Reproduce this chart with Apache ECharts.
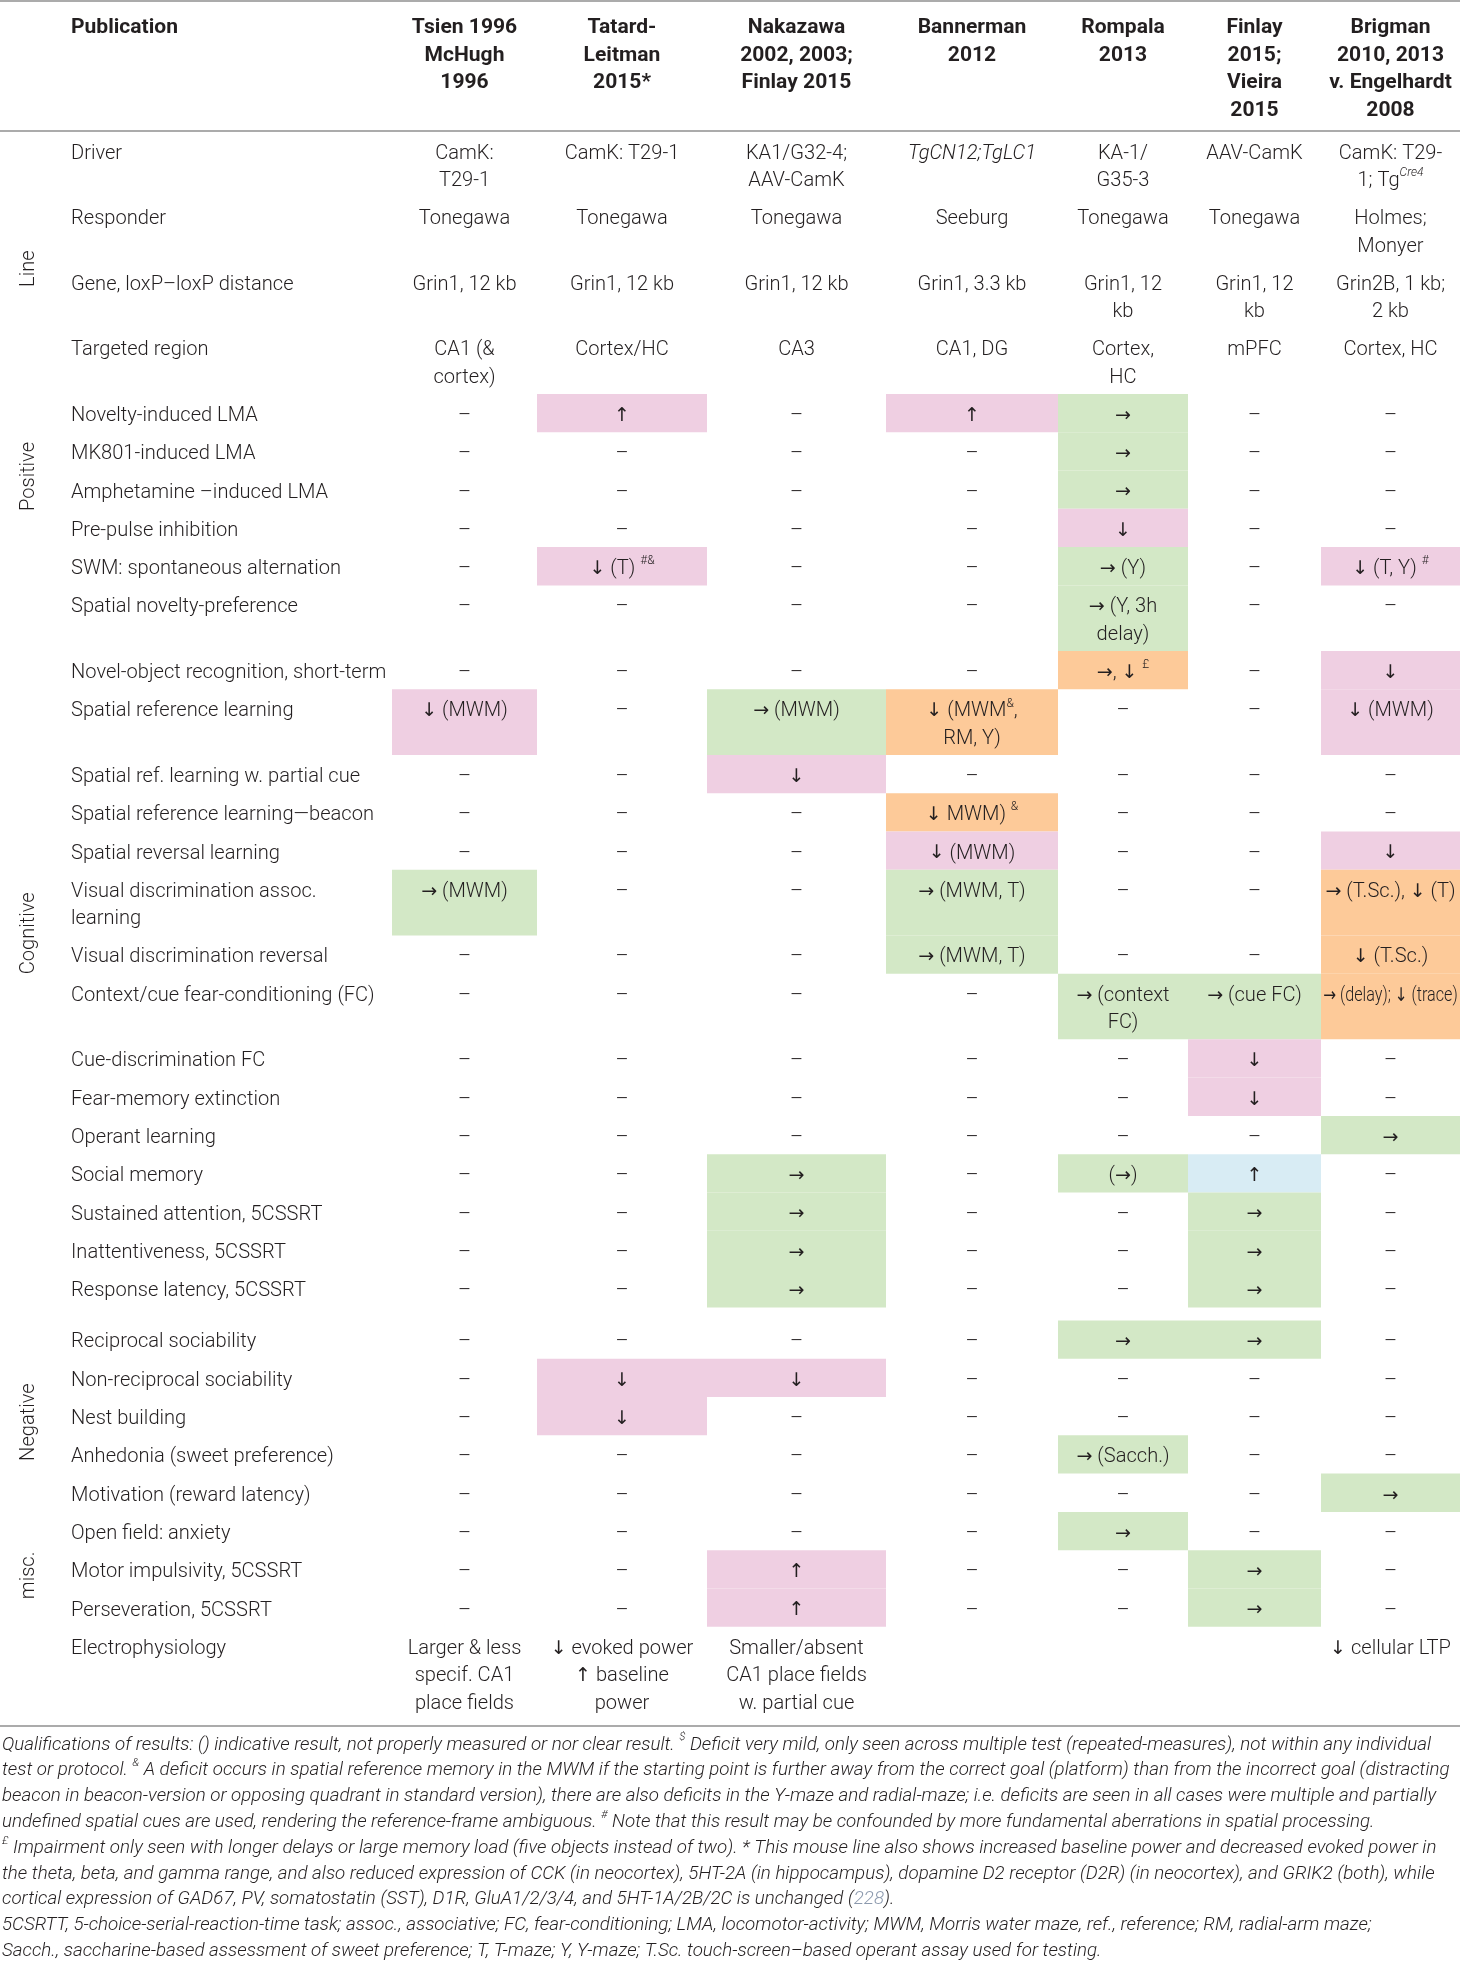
<!DOCTYPE html>
<html><head><meta charset="utf-8">
<script src="https://cdn.jsdelivr.net/npm/echarts@6/dist/echarts.min.js"></script>
<style>html,body{margin:0;padding:0;background:#fff}#c{width:1460px;height:1964px}</style>
</head><body><div id="c"></div>
<script>
// ================= DATA =================
const headerLabel = 'Publication';
const publications = [
  'Tsien 1996\nMcHugh\n1996',
  'Tatard-\nLeitman\n2015*',
  'Nakazawa\n2002, 2003;\nFinlay 2015',
  'Bannerman\n2012',
  'Rompala\n2013',
  'Finlay\n2015;\nVieira\n2015',
  'Brigman\n2010, 2013\nv. Engelhardt\n2008'
];
const groupNames = ['Line', 'Positive', 'Cognitive', 'Negative', 'misc.'];
const rowLabels = [
  'Driver', 'Responder', 'Gene, loxP\u2013loxP distance', 'Targeted region',
  'Novelty-induced LMA', 'MK801-induced LMA', 'Amphetamine \u2013induced LMA', 'Pre-pulse inhibition',
  'SWM: spontaneous alternation', 'Spatial novelty-preference', 'Novel-object recognition, short-term',
  'Spatial reference learning', 'Spatial ref. learning w. partial cue', 'Spatial reference learning\u2014beacon',
  'Spatial reversal learning', 'Visual discrimination assoc.\nlearning', 'Visual discrimination reversal',
  'Context/cue fear-conditioning (FC)', 'Cue-discrimination FC', 'Fear-memory extinction', 'Operant learning',
  'Social memory', 'Sustained attention, 5CSSRT', 'Inattentiveness, 5CSSRT', 'Response latency, 5CSSRT',
  'Reciprocal sociability', 'Non-reciprocal sociability', 'Nest building', 'Anhedonia (sweet preference)',
  'Motivation (reward latency)', 'Open field: anxiety', 'Motor impulsivity, 5CSSRT', 'Perseveration, 5CSSRT',
  'Electrophysiology'
];
const rowGroup = [0,0,0,0, 1,1,1,1, 2,2,2,2,2,2,2,2,2,2,2,2,2,2,2,2,2, 3,3,3,3,3, 4,4,4, -1];
const D = '\u2013', UP = '\u2191', DN = '\u2193', RT = '\u2192';
const cellValues = [
  ['CamK:\nT29-1', 'CamK: T29-1', 'KA1/G32-4;\nAAV-CamK', '{i|TgCN12;TgLC1}', 'KA-1/\nG35-3', 'AAV-CamK', 'CamK: T29-\n1; Tg{supi|Cre4}'],
  ['Tonegawa', 'Tonegawa', 'Tonegawa', 'Seeburg', 'Tonegawa', 'Tonegawa', 'Holmes;\nMonyer'],
  ['Grin1, 12 kb', 'Grin1, 12 kb', 'Grin1, 12 kb', 'Grin1, 3.3 kb', 'Grin1, 12\nkb', 'Grin1, 12\nkb', 'Grin2B, 1 kb;\n2 kb'],
  ['CA1 (&\ncortex)', 'Cortex/HC', 'CA3', 'CA1, DG', 'Cortex,\nHC', 'mPFC', 'Cortex, HC'],
  [D, UP, D, UP, RT, D, D],
  [D, D, D, D, RT, D, D],
  [D, D, D, D, RT, D, D],
  [D, D, D, D, DN, D, D],
  [D, DN + ' (T) {sup|#&}', D, D, RT + ' (Y)', D, DN + ' (T, Y) {sup|#}'],
  [D, D, D, D, RT + ' (Y, 3h\ndelay)', D, D],
  [D, D, D, D, RT + ', ' + DN + ' {sup|\u00a3}', D, DN],
  [DN + ' (MWM)', D, RT + ' (MWM)', DN + ' (MWM{sup|&},\nRM, Y)', D, D, DN + ' (MWM)'],
  [D, D, DN, D, D, D, D],
  [D, D, D, DN + ' MWM) {sup|&}', D, D, D],
  [D, D, D, DN + ' (MWM)', D, D, DN],
  [RT + ' (MWM)', D, D, RT + ' (MWM, T)', D, D, RT + ' (T.Sc.), ' + DN + ' (T)'],
  [D, D, D, RT + ' (MWM, T)', D, D, DN + ' (T.Sc.)'],
  [D, D, D, D, RT + ' (context\nFC)', RT + ' (cue FC)', RT + ' (delay); ' + DN + ' (trace)'],
  [D, D, D, D, D, DN, D],
  [D, D, D, D, D, DN, D],
  [D, D, D, D, D, D, RT],
  [D, D, RT, D, '(' + RT + ')', UP, D],
  [D, D, RT, D, D, RT, D],
  [D, D, RT, D, D, RT, D],
  [D, D, RT, D, D, RT, D],
  [D, D, D, D, RT, RT, D],
  [D, DN, DN, D, D, D, D],
  [D, DN, D, D, D, D, D],
  [D, D, D, D, RT + ' (Sacch.)', D, D],
  [D, D, D, D, D, D, RT],
  [D, D, D, D, RT, D, D],
  [D, D, UP, D, D, RT, D],
  [D, D, UP, D, D, RT, D],
  ['Larger & less\nspecif. CA1\nplace fields', DN + ' evoked power\n' + UP + ' baseline\npower', 'Smaller/absent\nCA1 place fields\nw. partial cue', '', '', '', DN + ' cellular LTP']
];
// result class per cell: P = deficit (pink), G = no change (green), O = mixed (orange), B = increase (blue), 0 = none
const cellClasses = [
  '0000000','0000000','0000000','0000000',
  '0P0PG00','0000G00','0000G00','0000P00',
  '0P00G0P','0000G00','0000O0P','P0GO00P','00P0000','000O000','000P00P',
  'G00G00O','000G00O','0000GGO','00000P0','00000P0','000000G',
  '00G0GB0','00G00G0','00G00G0','00G00G0',
  '0000GG0','0PP0000','0P00000','0000G00','000000G',
  '0000G00','00P00G0','00P00G0','0000000'
];
const footnotes = [
  'Qualifications of results: () indicative result, not properly measured or nor clear result. {sup|$} Deficit very mild, only seen across multiple test (repeated-measures), not within any individual',
  'test or protocol. {sup|&} A deficit occurs in spatial reference memory in the MWM if the starting point is further away from the correct goal (platform) than from the incorrect goal (distracting',
  'beacon in beacon-version or opposing quadrant in standard version), there are also deficits in the Y-maze and radial-maze; i.e. deficits are seen in all cases were multiple and partially',
  'undefined spatial cues are used, rendering the reference-frame ambiguous. {sup|#} Note that this result may be confounded by more fundamental aberrations in spatial processing.',
  '{sup|\u00a3} Impairment only seen with longer delays or large memory load (five objects instead of two). * This mouse line also shows increased baseline power and decreased evoked power in',
  'the theta, beta, and gamma range, and also reduced expression of CCK (in neocortex), 5HT-2A (in hippocampus), dopamine D2 receptor (D2R) (in neocortex), and GRIK2 (both), while',
  'cortical expression of GAD67, PV, somatostatin (SST), D1R, GluA1/2/3/4, and 5HT-1A/2B/2C is unchanged ({link|228}).',
  '5CSRTT, 5-choice-serial-reaction-time task; assoc., associative; FC, fear-conditioning; LMA, locomotor-activity; MWM, Morris water maze, ref., reference; RM, radial-arm maze;',
  'Sacch., saccharine-based assessment of sweet preference; T, T-maze; Y, Y-maze; T.Sc. touch-screen\u2013based operant assay used for testing.'
];

// ================= STYLE / LAYOUT =================
const W = 1460, H = 1964;
const classColors = { P: '#efcfe2', G: '#d3e8c6', O: '#fdca99', B: '#d8ecf4' };
const TXT = '#231f20', RULE = '#ababab';
const colEdges = [392, 537, 707, 886, 1058, 1188, 1321, 1460];
const labelX = 71, groupLabelX = 29;
const bodyTop = 131.5, rowBase = 38.3, rowExtra = 27.3, lineH = 27.5, firstLineOff = 22;
const groupGapBefore = { 3: 13 };
const headerFirstLine = 28, headerLineH = 27.5;
const ruleYs = [1, 131, 1726];
const footTop = 1745, footLineH = 25.8, footX = 2;
const FAM = 'Roboto', ARROWFAM = 'DejaVu Sans';
const bodyFS = 20, headFS = 20, footFS = 18, arrowFS = 19;

const mctx = document.createElement('canvas').getContext('2d');
function plain(s) { return s.replace(/\{(\w+)\|([^}]*)\}/g, '$2'); }
function textW(s, font) { mctx.font = font; return mctx.measureText(plain(s)).width; }
function maxLineW(s, font) { return Math.max(...s.split('\n').map(l => textW(l, font))); }
function arrowize(s) { return s.replace(/[\u2190-\u2193]/g, m => '{a|' + m + '}'); }
const bodyFont = '300 ' + bodyFS + 'px ' + FAM;
const bodyScale = 303 / textW('Spatial reference learning\u2014beacon', bodyFont);
const headScale = 107 / textW('Publication', 'bold ' + headFS + 'px ' + FAM);
const footScale = 1452 / textW(footnotes[1], 'italic 300 ' + footFS + 'px ' + FAM);

const richBody = {
  a: { fontSize: arrowFS, fontFamily: ARROWFAM, fontWeight: 'normal', fill: TXT, lineHeight: lineH },
  sup: { fontSize: 12, fontFamily: FAM, fontWeight: 300, verticalAlign: 'top', lineHeight: 23, fill: TXT },
  supi: { fontSize: 12, fontFamily: FAM, fontWeight: 300, fontStyle: 'italic', verticalAlign: 'top', lineHeight: 23, fill: TXT },
  i: { fontSize: bodyFS, fontFamily: FAM, fontWeight: 300, fontStyle: 'italic', fill: TXT }
};
const richFoot = {
  sup: { fontSize: 11, fontFamily: FAM, fontWeight: 300, fontStyle: 'italic', verticalAlign: 'top', lineHeight: 20, fill: TXT },
  link: { fontSize: footFS, fontFamily: FAM, fontWeight: 300, fontStyle: 'italic', fill: '#8d9aae' }
};

// row geometry derived from line counts
function nLines(s) { return s ? s.split('\n').length : 1; }
const rowTop = [], rowBottom = [];
(function () {
  let y = bodyTop, prevG = null;
  rowLabels.forEach((lab, r) => {
    const g = rowGroup[r];
    if (g !== prevG && groupGapBefore[g]) y += groupGapBefore[g];
    prevG = g;
    const n = Math.max(nLines(lab), ...cellValues[r].map(nLines));
    rowTop.push(y);
    y += rowBase + rowExtra * (n - 1);
    rowBottom.push(y);
  });
})();

// data for series
const cellData = [], cellInfo = [];
cellValues.forEach((row, r) => row.forEach((v, c) => {
  cellData.push([colEdges[c], rowTop[r], colEdges[c + 1], rowBottom[r]]);
  const avail = colEdges[c + 1] - colEdges[c] - 6;
  const wv = v ? maxLineW(v, bodyFont) : 0;
  const sc = wv * bodyScale > avail ? avail / wv : bodyScale;
  cellInfo.push({ text: arrowize(v), color: classColors[cellClasses[r][c]] || null, scale: sc });
}));
const labelData = rowLabels.map((l, r) => [labelX, rowTop[r]]);
const headerItems = [{ text: headerLabel, x: labelX, align: 'left' }].concat(
  publications.map((p, c) => ({ text: p, x: (colEdges[c] + colEdges[c + 1]) / 2, align: 'center' })));
const headerData = headerItems.map(h => [h.x, headerFirstLine]);
const groupData = groupNames.map((g, gi) => {
  const rows = rowGroup.map((v, i) => v === gi ? i : -1).filter(i => i >= 0);
  return [groupLabelX, (rowTop[rows[0]] + rowBottom[rows[rows.length - 1]]) / 2 + 6];
});
const footData = footnotes.map((f, i) => [footX, footTop + i * footLineH]);
const ruleData = ruleYs.map(y => [0, y, W, y]);

const chart = echarts.init(document.getElementById('c'), null, { renderer: 'canvas', width: W, height: H });
const base = { type: 'custom', silent: true, animation: false, clip: false };
chart.setOption({
  animation: false,
  grid: { left: 0, right: 0, top: 0, bottom: 0 },
  xAxis: { type: 'value', min: 0, max: W, show: false },
  yAxis: { type: 'value', min: 0, max: H, inverse: true, show: false },
  series: [
    Object.assign({}, base, {
      name: 'cells', data: cellData, z: 2,
      renderItem(params, api) {
        const info = cellInfo[params.dataIndex];
        const p0 = api.coord([api.value(0), api.value(1)]);
        const p1 = api.coord([api.value(2), api.value(3)]);
        const ch = [];
        if (info.color) ch.push({ type: 'rect', shape: { x: p0[0], y: p0[1], width: p1[0] - p0[0], height: p1[1] - p0[1] }, style: { fill: info.color } });
        if (info.text) ch.push({
          type: 'text', x: (p0[0] + p1[0]) / 2, y: p0[1] + firstLineOff - lineH / 2, scaleX: info.scale,
          style: { text: info.text, fill: TXT, fontSize: bodyFS, fontFamily: FAM, fontWeight: 300, align: 'center', verticalAlign: 'top', lineHeight: lineH, rich: richBody }
        });
        return { type: 'group', children: ch };
      }
    }),
    Object.assign({}, base, {
      name: 'rowLabels', data: labelData, z: 3,
      renderItem(params, api) {
        const p = api.coord([api.value(0), api.value(1)]);
        return { type: 'text', x: p[0], y: p[1] + firstLineOff - lineH / 2, scaleX: bodyScale,
          style: { text: rowLabels[params.dataIndex], fill: TXT, fontSize: bodyFS, fontFamily: FAM, fontWeight: 300, align: 'left', verticalAlign: 'top', lineHeight: lineH } };
      }
    }),
    Object.assign({}, base, {
      name: 'header', data: headerData, z: 3,
      renderItem(params, api) {
        const h = headerItems[params.dataIndex];
        const p = api.coord([api.value(0), api.value(1)]);
        return { type: 'text', x: p[0], y: p[1] - headerLineH / 2, scaleX: headScale,
          style: { text: h.text, fill: TXT, fontSize: headFS, fontFamily: FAM, fontWeight: 'bold', align: h.align, verticalAlign: 'top', lineHeight: headerLineH } };
      }
    }),
    Object.assign({}, base, {
      name: 'groups', data: groupData, z: 3,
      renderItem(params, api) {
        const p = api.coord([api.value(0), api.value(1)]);
        return { type: 'text', x: p[0], y: p[1], rotation: Math.PI / 2, scaleX: bodyScale,
          style: { text: groupNames[params.dataIndex], fill: TXT, fontSize: bodyFS, fontFamily: FAM, fontWeight: 300, align: 'center', verticalAlign: 'middle' } };
      }
    }),
    Object.assign({}, base, {
      name: 'footnotes', data: footData, z: 3,
      renderItem(params, api) {
        const p = api.coord([api.value(0), api.value(1)]);
        return { type: 'text', x: p[0], y: p[1] - footLineH / 2, scaleX: footScale,
          style: { text: footnotes[params.dataIndex], fill: TXT, fontSize: footFS, fontFamily: FAM, fontWeight: 300, fontStyle: 'italic', align: 'left', verticalAlign: 'top', lineHeight: footLineH, rich: richFoot } };
      }
    }),
    Object.assign({}, base, {
      name: 'rules', data: ruleData, z: 4,
      renderItem(params, api) {
        const p0 = api.coord([api.value(0), api.value(1)]);
        const p1 = api.coord([api.value(2), api.value(3)]);
        return { type: 'line', shape: { x1: p0[0], y1: p0[1], x2: p1[0], y2: p1[1] }, style: { stroke: RULE, lineWidth: 2 } };
      }
    })
  ]
});
</script></body></html>
